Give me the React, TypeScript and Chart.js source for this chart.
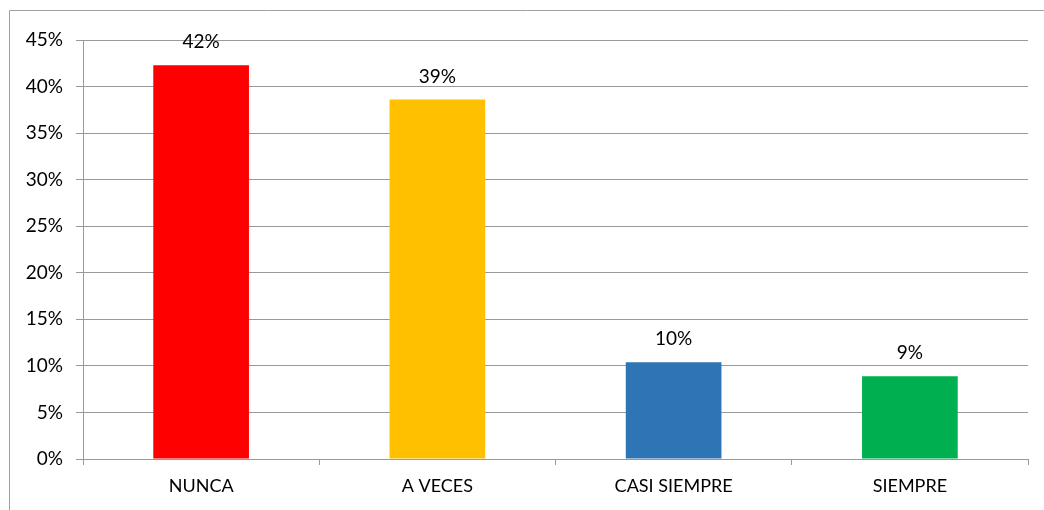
import React, { useEffect, useRef } from "react";
import { Chart, registerables } from "chart.js";

Chart.register(...registerables);

const categories = ["NUNCA", "A VECES", "CASI SIEMPRE", "SIEMPRE"];
const values = [0.423, 0.386, 0.104, 0.089];
const valueLabels = ["42%", "39%", "10%", "9%"];
const barColors = ["#ff0000", "#ffc000", "#2e75b6", "#00b050"];

const FONT = "Lato, 'Open Sans', sans-serif";

const frame = {
  id: "frame",
  beforeDraw(chart: any) {
    const ctx = chart.ctx;
    ctx.save();
    ctx.fillStyle = "#ffffff";
    ctx.fillRect(0, 0, chart.width, chart.height);
    ctx.strokeStyle = "#a0a0a0";
    ctx.lineWidth = 1;
    ctx.beginPath();
    ctx.moveTo(9.5, chart.height + 2);
    ctx.lineTo(9.5, 10.5);
    ctx.lineTo(chart.width + 2, 10.5);
    ctx.stroke();
    ctx.restore();
  },
};

const valueLabelPlugin = {
  id: "valueLabels",
  afterDatasetsDraw(chart: any) {
    const ctx = chart.ctx;
    const meta = chart.getDatasetMeta(0);
    ctx.save();
    ctx.font = `19px ${FONT}`;
    ctx.fillStyle = "#000000";
    ctx.textAlign = "center";
    ctx.textBaseline = "alphabetic";
    meta.data.forEach((bar: any, i: number) => {
      ctx.fillText(valueLabels[i], bar.x, bar.y - 17);
    });
    ctx.restore();
  },
};

export default function App() {
  const ref = useRef<HTMLCanvasElement | null>(null);
  useEffect(() => {
    if (!ref.current) return;
    const chart = new Chart(ref.current, {
      type: "bar",
      data: {
        labels: categories,
        datasets: [
          {
            data: values,
            backgroundColor: barColors,
            borderWidth: 0,
            categoryPercentage: 1,
            barPercentage: 0.405,
          },
        ],
      },
      options: {
        animation: false,
        responsive: false,
        maintainAspectRatio: false,
        devicePixelRatio: 1,
        layout: { padding: { left: 0, top: 40, right: 16, bottom: 0 } },
        plugins: {
          legend: { display: false },
          tooltip: { enabled: false },
        },
        scales: {
          x: {
            offset: true,
            grid: {
              offset: true,
              drawOnChartArea: false,
              drawTicks: true,
              tickLength: 6,
              color: "#9a9a9a",
            },
            border: { display: false },
            ticks: {
              color: "#000000",
              font: { family: FONT, size: 18 },
              padding: 10,
              maxRotation: 0,
              autoSkip: false,
            },
            afterFit(scale: any) {
              scale.height = 51;
            },
          },
          y: {
            min: 0,
            max: 0.45,
            grid: {
              color: "#9a9a9a",
              drawTicks: true,
              tickLength: 7,
            },
            border: { display: true, color: "#9a9a9a" },
            ticks: {
              stepSize: 0.05,
              color: "#000000",
              font: { family: FONT, size: 19 },
              padding: 13,
              callback: (v: any) => `${Math.round(Number(v) * 100)}%`,
            },
            afterFit(scale: any) {
              scale.width = 83;
            },
          },
        },
      },
      plugins: [frame, valueLabelPlugin],
    });
    return () => chart.destroy();
  }, []);
  return (
    <div style={{ position: "fixed", left: 0, top: 0, width: 1044, height: 510 }}>
      <canvas ref={ref} width={1044} height={510} style={{ display: "block", width: 1044, height: 510 }} />
    </div>
  );
}
